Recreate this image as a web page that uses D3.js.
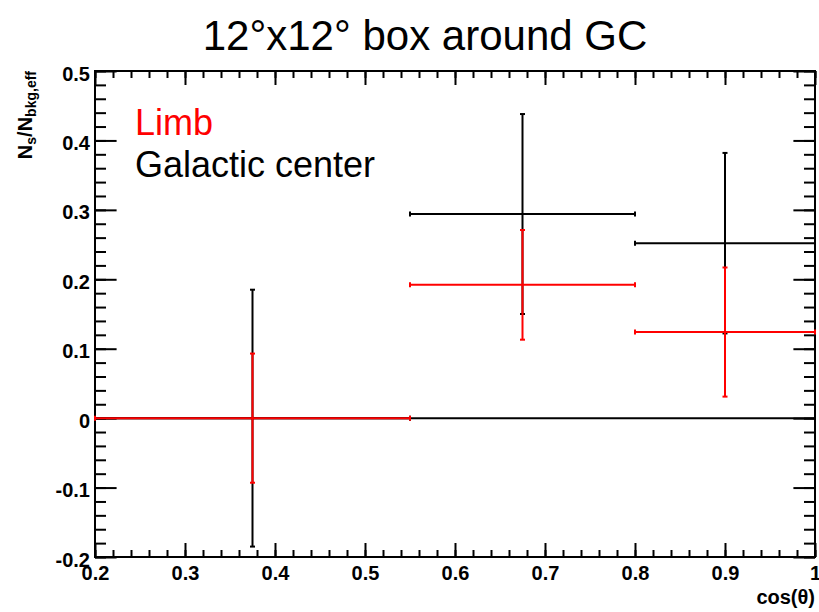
<!DOCTYPE html>
<html>
<head>
<meta charset="utf-8">
<script src="https://cdn.jsdelivr.net/npm/d3@7"></script>
<style>
  html, body { margin: 0; padding: 0; background: #fff; }
  svg { display: block; }
  text { font-family: "Liberation Sans", Arial, Helvetica, sans-serif; }
</style>
</head>
<body>
<svg id="chart" width="819" height="612"></svg>
<script>
// Bins in cos(theta)
const binLow    = [0.2, 0.55, 0.8];
const binHigh   = [0.55, 0.8, 1.0];
const binCenter = [0.375, 0.675, 0.9];

// Ns/Nbkg,eff per bin with symmetric uncertainties
const limbValue = [0.0, 0.192, 0.124];
const limbError = [0.093, 0.079, 0.093];
const gcValue   = [0.0, 0.294, 0.252];
const gcError   = [0.185, 0.144, 0.13];

// Axis ticks
const xMajorTicks  = [0.2, 0.3, 0.4, 0.5, 0.6, 0.7, 0.8, 0.9, 1.0];
const xTickLabels  = ["0.2", "0.3", "0.4", "0.5", "0.6", "0.7", "0.8", "0.9", "1"];
const yMajorTicks  = [-0.2, -0.1, 0.0, 0.1, 0.2, 0.3, 0.4, 0.5];
const yTickLabels  = ["-0.2", "-0.1", "0", "0.1", "0.2", "0.3", "0.4", "0.5"];
const xMinorTicks  = d3.range(0, 41).map(i => 0.2 + i * 0.02);
const yMinorTicks  = d3.range(0, 36).map(i => -0.2 + i * 0.02);

const svg = d3.select("#chart");
const frameLeft = 95, frameRight = 815, frameTop = 71, frameBottom = 557;

const x = d3.scaleLinear().domain([0.2, 1.0]).range([frameLeft, frameRight]);
const y = d3.scaleLinear().domain([-0.2, 0.5]).range([frameBottom, frameTop]);

// Title
svg.append("text")
  .attr("x", 425).attr("y", 50)
  .attr("text-anchor", "middle")
  .attr("font-size", 42)
  .text("12°x12° box around GC");

// Axes helper
function styleAxis(g) {
  g.select(".domain").remove();
  g.selectAll(".tick line").attr("stroke", "#000").attr("stroke-width", 2);
  g.selectAll(".tick text")
    .attr("fill", "#000")
    .attr("font-size", 20)
    .attr("font-weight", "bold")
    .attr("font-family", "'Liberation Sans', Arial, sans-serif");
}

const xLab = new Map(xMajorTicks.map((v, i) => [v.toFixed(2), xTickLabels[i]]));
const yLab = new Map(yMajorTicks.map((v, i) => [v.toFixed(2), yTickLabels[i]]));

// Bottom axis
svg.append("g").attr("transform", `translate(0,${frameBottom})`)
  .call(d3.axisBottom(x).tickValues(xMinorTicks).tickSize(-7).tickSizeOuter(0).tickFormat(""))
  .call(styleAxis);
svg.append("g").attr("transform", `translate(0,${frameBottom})`)
  .call(d3.axisBottom(x).tickValues(xMajorTicks).tickSize(-14).tickSizeOuter(0).tickPadding(9)
        .tickFormat(d => xLab.get(d.toFixed(2))))
  .call(styleAxis);

// Top axis (ticks only)
svg.append("g").attr("transform", `translate(0,${frameTop})`)
  .call(d3.axisTop(x).tickValues(xMinorTicks).tickSize(-7).tickSizeOuter(0).tickFormat(""))
  .call(styleAxis);
svg.append("g").attr("transform", `translate(0,${frameTop})`)
  .call(d3.axisTop(x).tickValues(xMajorTicks).tickSize(-14).tickSizeOuter(0).tickFormat(""))
  .call(styleAxis);

// Left axis
svg.append("g").attr("transform", `translate(${frameLeft},0)`)
  .call(d3.axisLeft(y).tickValues(yMinorTicks).tickSize(-11).tickSizeOuter(0).tickFormat(""))
  .call(styleAxis);
const yAxisG = svg.append("g").attr("transform", `translate(${frameLeft},0)`)
  .call(d3.axisLeft(y).tickValues(yMajorTicks).tickSize(-21.6).tickSizeOuter(0).tickPadding(5)
        .tickFormat(d => yLab.get(d.toFixed(2))))
  .call(styleAxis);
yAxisG.selectAll(".tick text").attr("dy", "0.45em");

// Right axis (ticks only)
svg.append("g").attr("transform", `translate(${frameRight},0)`)
  .call(d3.axisRight(y).tickValues(yMinorTicks).tickSize(-11).tickSizeOuter(0).tickFormat(""))
  .call(styleAxis);
svg.append("g").attr("transform", `translate(${frameRight},0)`)
  .call(d3.axisRight(y).tickValues(yMajorTicks).tickSize(-21.6).tickSizeOuter(0).tickFormat(""))
  .call(styleAxis);

// Frame
svg.append("rect")
  .attr("x", frameLeft).attr("y", frameTop)
  .attr("width", frameRight - frameLeft).attr("height", frameBottom - frameTop)
  .attr("fill", "none").attr("stroke", "#000").attr("stroke-width", 2);

// Axis titles
svg.append("text")
  .attr("x", frameRight).attr("y", 604)
  .attr("text-anchor", "end")
  .attr("font-size", 20).attr("font-weight", "bold")
  .text("cos(θ)");

const yTitle = svg.append("text")
  .attr("transform", `translate(32,${frameTop}) rotate(-90)`)
  .attr("text-anchor", "end")
  .attr("font-size", 20).attr("font-weight", "bold");
yTitle.append("tspan").text("N");
yTitle.append("tspan").attr("font-size", 14).attr("dy", 4).text("s");
yTitle.append("tspan").attr("dy", -4).text("/N");
yTitle.append("tspan").attr("font-size", 14).attr("dy", 4).text("bkg,eff");

// Zero reference line
svg.append("line")
  .attr("x1", x(0.2)).attr("x2", x(1.0))
  .attr("y1", y(0)).attr("y2", y(0))
  .attr("stroke", "#000").attr("stroke-width", 2);

// Error-bar series
function drawSeries(values, errors, color) {
  const g = svg.append("g").attr("stroke", color).attr("stroke-width", 2);
  const cap = 2.5;
  values.forEach((v, i) => {
    const xc = x(binCenter[i]), xl = x(binLow[i]), xh = x(binHigh[i]);
    const yc = y(v), yt = y(v + errors[i]), yb = y(v - errors[i]);
    // horizontal bin extent
    g.append("line").attr("x1", xl).attr("x2", xh).attr("y1", yc).attr("y2", yc);
    g.append("line").attr("x1", xl).attr("x2", xl).attr("y1", yc - cap).attr("y2", yc + cap);
    g.append("line").attr("x1", xh).attr("x2", xh).attr("y1", yc - cap).attr("y2", yc + cap);
    // vertical uncertainty
    g.append("line").attr("x1", xc).attr("x2", xc).attr("y1", yt).attr("y2", yb);
    g.append("line").attr("x1", xc - cap).attr("x2", xc + cap).attr("y1", yt).attr("y2", yt);
    g.append("line").attr("x1", xc - cap).attr("x2", xc + cap).attr("y1", yb).attr("y2", yb);
  });
}
drawSeries(gcValue, gcError, "#000000");
drawSeries(limbValue, limbError, "#ff0000");

// Legend
svg.append("text").attr("x", 135).attr("y", 135)
  .attr("font-size", 36).attr("fill", "#ff0000").text("Limb");
svg.append("text").attr("x", 135).attr("y", 177)
  .attr("font-size", 36).attr("fill", "#000").text("Galactic center");
</script>
</body>
</html>
